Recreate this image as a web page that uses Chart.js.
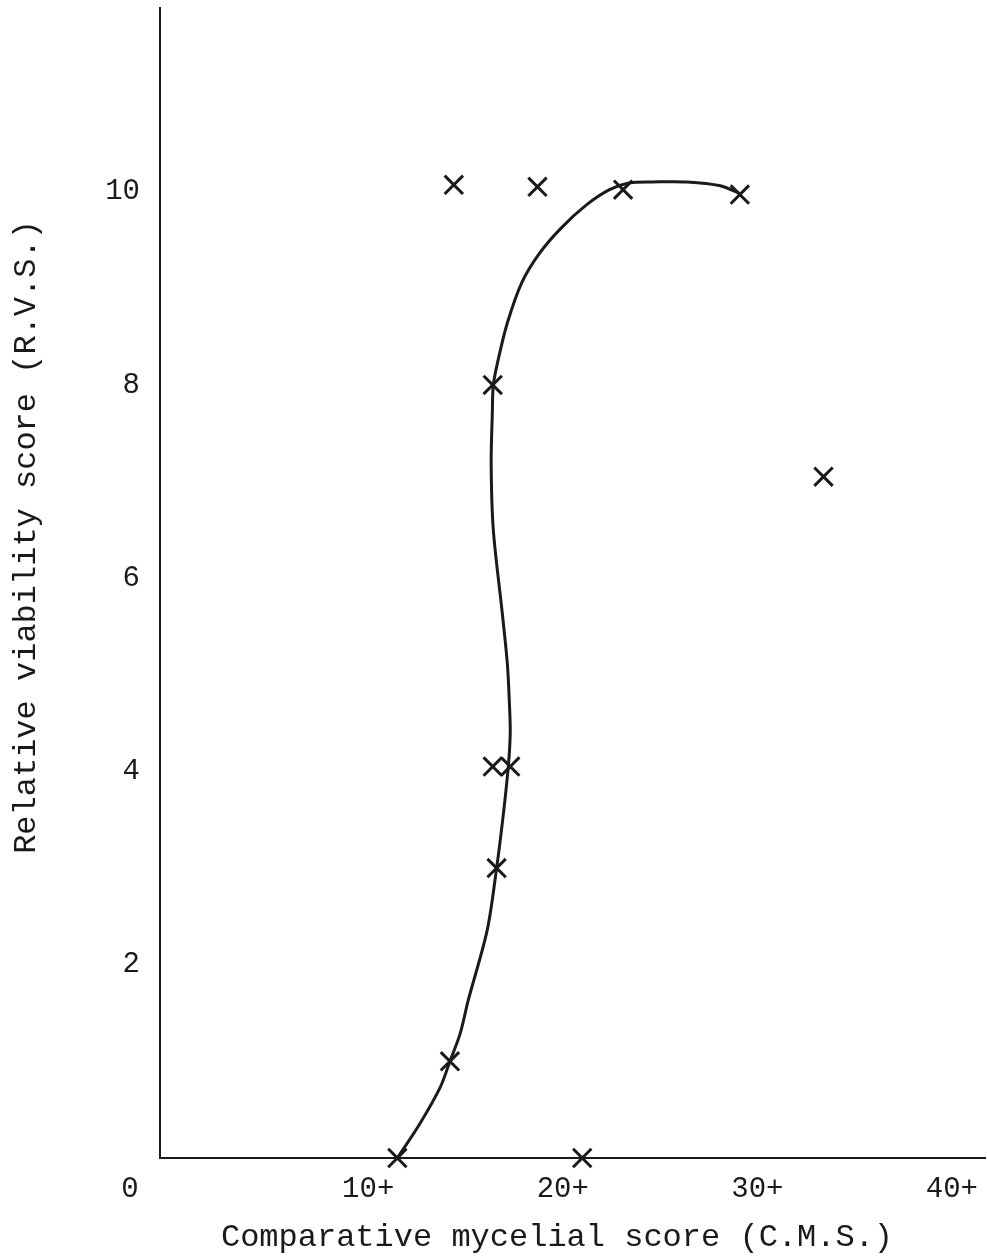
<!DOCTYPE html>
<html>
<head>
<meta charset="utf-8">
<script src="https://cdn.jsdelivr.net/npm/chart.js@4"></script>
<style>
  html, body { margin: 0; padding: 0; background: #fff; }
  #wrap { width: 987px; height: 1260px; }
</style>
</head>
<body>
<div id="wrap"><canvas id="myChart"></canvas></div>
<script>
// plotted crosses (C.M.S., R.V.S.)
const markX = [11.5, 14.2, 16.6, 16.4, 17.3, 16.4, 14.4, 18.7, 23.1, 29.1, 33.4, 21.0];
const markY = [0, 1.0, 3.0, 4.05, 4.05, 8.0, 10.07, 10.05, 10.02, 9.97, 7.05, 0];

// hand drawn curve
const curveX = [11.5, 12.67, 13.7, 14.2, 14.73, 15.14, 16.12, 16.6, 16.93, 17.2, 17.3, 17.25, 17.15, 16.89, 16.43, 16.32, 16.38, 16.43, 16.68, 17.15, 17.9, 18.8, 19.9, 21.2, 22.4, 23.4, 24.65, 26.4, 28.1, 29.1];
const curveY = [0, 0.36, 0.73, 1.0, 1.29, 1.63, 2.36, 3.0, 3.53, 4.05, 4.4, 4.74, 5.12, 5.64, 6.5, 7.19, 7.71, 8.0, 8.26, 8.64, 9.06, 9.36, 9.62, 9.86, 10.02, 10.09, 10.1, 10.1, 10.06, 9.98];

const xTicks = [10, 20, 30, 40];
const xTickLabels = ['10+', '20+', '30+', '40+'];
const yTicks = [2, 4, 6, 8, 10];
const originLabel = '0';
const xTitle = 'Comparative mycelial score (C.M.S.)';
const yTitle = 'Relative viability score (R.V.S.)';

const ink = '#1a1a1a';
const mono = '"Liberation Mono", "DejaVu Sans Mono", monospace';

const ctx = document.getElementById('myChart');

// axis titles and the corner "0"
const extraText = {
  id: 'extraText',
  afterDraw(chart) {
    const c = chart.ctx;
    const area = chart.chartArea;
    c.save();
    c.fillStyle = ink;
    c.textAlign = 'center';
    c.textBaseline = 'middle';
    c.font = '29px ' + mono;
    c.fillText(originLabel, area.left - 30, area.bottom + 31);
    c.font = '32px ' + mono;
    c.fillText(xTitle, 557, area.bottom + 80);
    c.translate(27, 537);
    c.rotate(-Math.PI / 2);
    c.fillText(yTitle, 0, 0);
    c.restore();
  },
};

new Chart(ctx, {
  type: 'scatter',
  data: {
    datasets: [
      {
        label: 'curve',
        data: curveX.map((x, i) => ({ x: x, y: curveY[i] })),
        showLine: true,
        borderColor: ink,
        borderWidth: 3,
        tension: 0.3,
        pointRadius: 0,
        fill: false,
      },
      {
        label: 'points',
        data: markX.map((x, i) => ({ x: x, y: markY[i] })),
        pointStyle: 'crossRot',
        pointRadius: 13,
        pointBorderWidth: 3,
        borderColor: ink,
        backgroundColor: ink,
        clip: false,
      },
    ],
  },
  options: {
    responsive: true,
    maintainAspectRatio: false,
    animation: false,
    layout: { autoPadding: false, padding: { top: 8, right: 2, left: 0, bottom: 0 } },
    plugins: {
      legend: { display: false },
      tooltip: { enabled: false },
    },
    scales: {
      x: {
        type: 'linear',
        min: -0.7,
        max: 41.7,
        afterFit: (scale) => {
          scale.height = 102;
          scale.paddingLeft = 0;
          scale.paddingRight = 0;
        },
        afterBuildTicks: (scale) => { scale.ticks = xTicks.map((v) => ({ value: v })); },
        grid: { display: false, drawTicks: false },
        border: { display: true, color: ink, width: 2 },
        ticks: {
          color: ink,
          font: { family: mono, size: 29 },
          padding: 14,
          maxRotation: 0,
          autoSkip: false,
          callback: (v) => xTickLabels[xTicks.indexOf(v)] ?? '',
        },
      },
      y: {
        type: 'linear',
        min: 0,
        max: 11.9,
        afterFit: (scale) => {
          scale.width = 160;
          scale.paddingTop = 0;
          scale.paddingBottom = 0;
        },
        afterBuildTicks: (scale) => { scale.ticks = yTicks.map((v) => ({ value: v })); },
        grid: { display: false, drawTicks: false },
        border: { display: true, color: ink, width: 2 },
        ticks: {
          color: ink,
          font: { family: mono, size: 29 },
          padding: 20,
          autoSkip: false,
        },
      },
    },
  },
  plugins: [extraText],
});
</script>
</body>
</html>
